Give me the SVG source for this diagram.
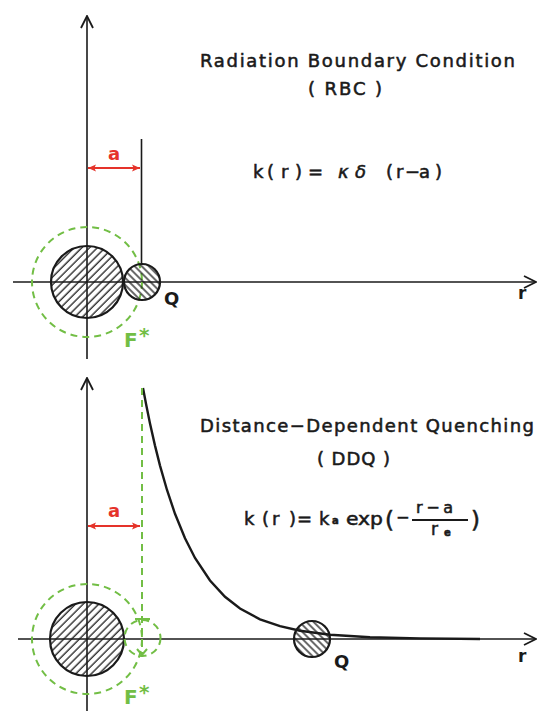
<svg xmlns="http://www.w3.org/2000/svg" width="538" height="711" viewBox="0 0 538 711">
<style>
.ax{stroke:#1a1a1a;stroke-width:1.6;fill:none}
.mol{stroke:#1a1a1a;stroke-width:2.2}
.grn{stroke:#72be45;stroke-width:2;fill:none;stroke-dasharray:7 5}
.red{stroke:#e5332a;stroke-width:1.8;fill:none}
.t{font-family:"DejaVu Sans","Liberation Sans",sans-serif;fill:#1a1a1a;stroke:#1a1a1a;stroke-width:0.55}
.lab{font-family:"DejaVu Sans","Liberation Sans",sans-serif;font-weight:bold}
</style>
<defs>
<pattern id="hb" width="5.5" height="10" patternUnits="userSpaceOnUse" patternTransform="rotate(45)">
<line x1="2" y1="0" x2="2" y2="10" stroke="#1a1a1a" stroke-width="1.3"/>
</pattern>
<pattern id="hs" width="5" height="10" patternUnits="userSpaceOnUse" patternTransform="rotate(-45)">
<line x1="2" y1="0" x2="2" y2="10" stroke="#1a1a1a" stroke-width="1.3"/>
</pattern>
<marker id="ah" viewBox="0 0 14 14" refX="13" refY="7" markerWidth="14" markerHeight="14" markerUnits="userSpaceOnUse" orient="auto">
<path d="M1,1 L13,7 L1,13" fill="none" stroke="#1a1a1a" stroke-width="1.8"/>
</marker>
<marker id="ra" viewBox="0 0 10 10" refX="9" refY="5" markerWidth="9" markerHeight="9" markerUnits="userSpaceOnUse" orient="auto-start-reverse">
<path d="M0,1 L9,5 L0,9 L2,5 Z" fill="#e5332a"/>
</marker>
</defs>

<g id="connectors">
<line class="ax" x1="87" y1="359" x2="87" y2="16" marker-end="url(#ah)"/>
<line class="ax" x1="13" y1="282" x2="536" y2="282" marker-end="url(#ah)"/>
<line class="ax" x1="141.5" y1="139" x2="141.5" y2="264"/>
<line class="red" x1="88" y1="168" x2="140" y2="168" marker-start="url(#ra)" marker-end="url(#ra)"/>

<line class="ax" x1="87" y1="711" x2="87" y2="378" marker-end="url(#ah)"/>
<line class="ax" x1="18" y1="639" x2="536" y2="639" marker-end="url(#ah)"/>
<line class="red" x1="88" y1="526" x2="140" y2="526" marker-start="url(#ra)" marker-end="url(#ra)"/>
<polyline fill="none" stroke="#1a1a1a" stroke-width="2.4" points="143,388 146,403.8 150,423.4 155,445.6 160,465.6 167,490 175,513.8 185,538.3 195,558 210,580.5 225,596.8 240,608.5 260,619.3 280,626.2 300,630.7 330,634.7 370,637.2 420,638.4 480,639"/>
</g>

<g id="rbc-F">
<circle class="grn" cx="87" cy="282" r="55"/>
<circle class="mol" cx="87" cy="282" r="36" fill="url(#hb)"/>
<text class="lab" x="124" y="347" font-size="20" fill="#72be45">F</text>
<text class="lab" x="139" y="342" font-size="20" fill="#72be45">*</text>
</g>
<g id="rbc-Q">
<circle class="mol" cx="142" cy="282" r="18" fill="url(#hs)"/>
<text class="lab" x="164" y="305" font-size="18" fill="#1a1a1a">Q</text>
</g>
<g id="rbc-labels">
<text class="lab" x="108" y="160" font-size="18" fill="#e5332a">a</text>
<text class="lab" x="518" y="299" font-size="17" fill="#1a1a1a">r</text>
<text class="t" x="200" y="67" font-size="18" textLength="315" lengthAdjust="spacing">Radiation Boundary Condition</text>
<text class="t" x="308" y="95" font-size="18" textLength="74" lengthAdjust="spacing">( RBC )</text>
<text class="t" y="178" font-size="18"><tspan x="253">k</tspan><tspan x="267">(</tspan><tspan x="281">r</tspan><tspan x="295">)</tspan><tspan x="308">=</tspan><tspan x="338" font-style="italic">κ</tspan><tspan x="355" font-style="italic">δ</tspan><tspan x="386">(</tspan><tspan x="396">r</tspan><tspan x="405">−</tspan><tspan x="419">a</tspan><tspan x="435">)</tspan></text>
</g>

<g id="ddq-F">
<circle class="grn" cx="87" cy="639" r="55"/>
<circle class="mol" cx="87" cy="639" r="37" fill="url(#hb)"/>
<circle class="grn" cx="142.5" cy="638" r="18" stroke-dasharray="6 4"/>
<line class="grn" x1="142" y1="388" x2="142" y2="654"/>
<line x1="135" y1="619" x2="150" y2="619" stroke="#72be45" stroke-width="2"/>
<path d="M137,649 L142,655 L147,649" fill="none" stroke="#72be45" stroke-width="2"/>
<text class="lab" x="124" y="704" font-size="20" fill="#72be45">F</text>
<text class="lab" x="139" y="699" font-size="20" fill="#72be45">*</text>
</g>
<g id="ddq-Q">
<circle class="mol" cx="312" cy="639" r="18" fill="url(#hs)"/>
<text class="lab" x="334" y="668" font-size="18" fill="#1a1a1a">Q</text>
</g>
<g id="ddq-labels">
<text class="lab" x="108" y="517" font-size="18" fill="#e5332a">a</text>
<text class="lab" x="518" y="662" font-size="17" fill="#1a1a1a">r</text>
<text class="t" x="200" y="432" font-size="18" textLength="334" lengthAdjust="spacing">Distance−Dependent Quenching</text>
<text class="t" x="317" y="465" font-size="18" textLength="73" lengthAdjust="spacing">( DDQ )</text>
<text class="t" y="525" font-size="18"><tspan x="244">k</tspan><tspan x="262">(</tspan><tspan x="272">r</tspan><tspan x="289">)</tspan><tspan x="297">=</tspan><tspan x="319">k</tspan></text>
<text class="t" x="332" y="524" font-size="10" font-weight="bold">a</text>
<text class="t" x="346" y="525" font-size="18" textLength="37" lengthAdjust="spacingAndGlyphs">exp</text>
<text class="t" x="385" y="528" font-size="23">(</text>
<text class="t" x="396" y="523" font-size="16">−</text>
<text class="t" x="416" y="513" font-size="16" textLength="37" lengthAdjust="spacing">r−a</text>
<line x1="412" y1="520" x2="468" y2="520" stroke="#1a1a1a" stroke-width="1.8"/>
<text class="t" x="431" y="535" font-size="17">r</text>
<text class="t" x="444" y="536" font-size="10" font-weight="bold">e</text>
<text class="t" x="471" y="528" font-size="23">)</text>
</g>
</svg>
